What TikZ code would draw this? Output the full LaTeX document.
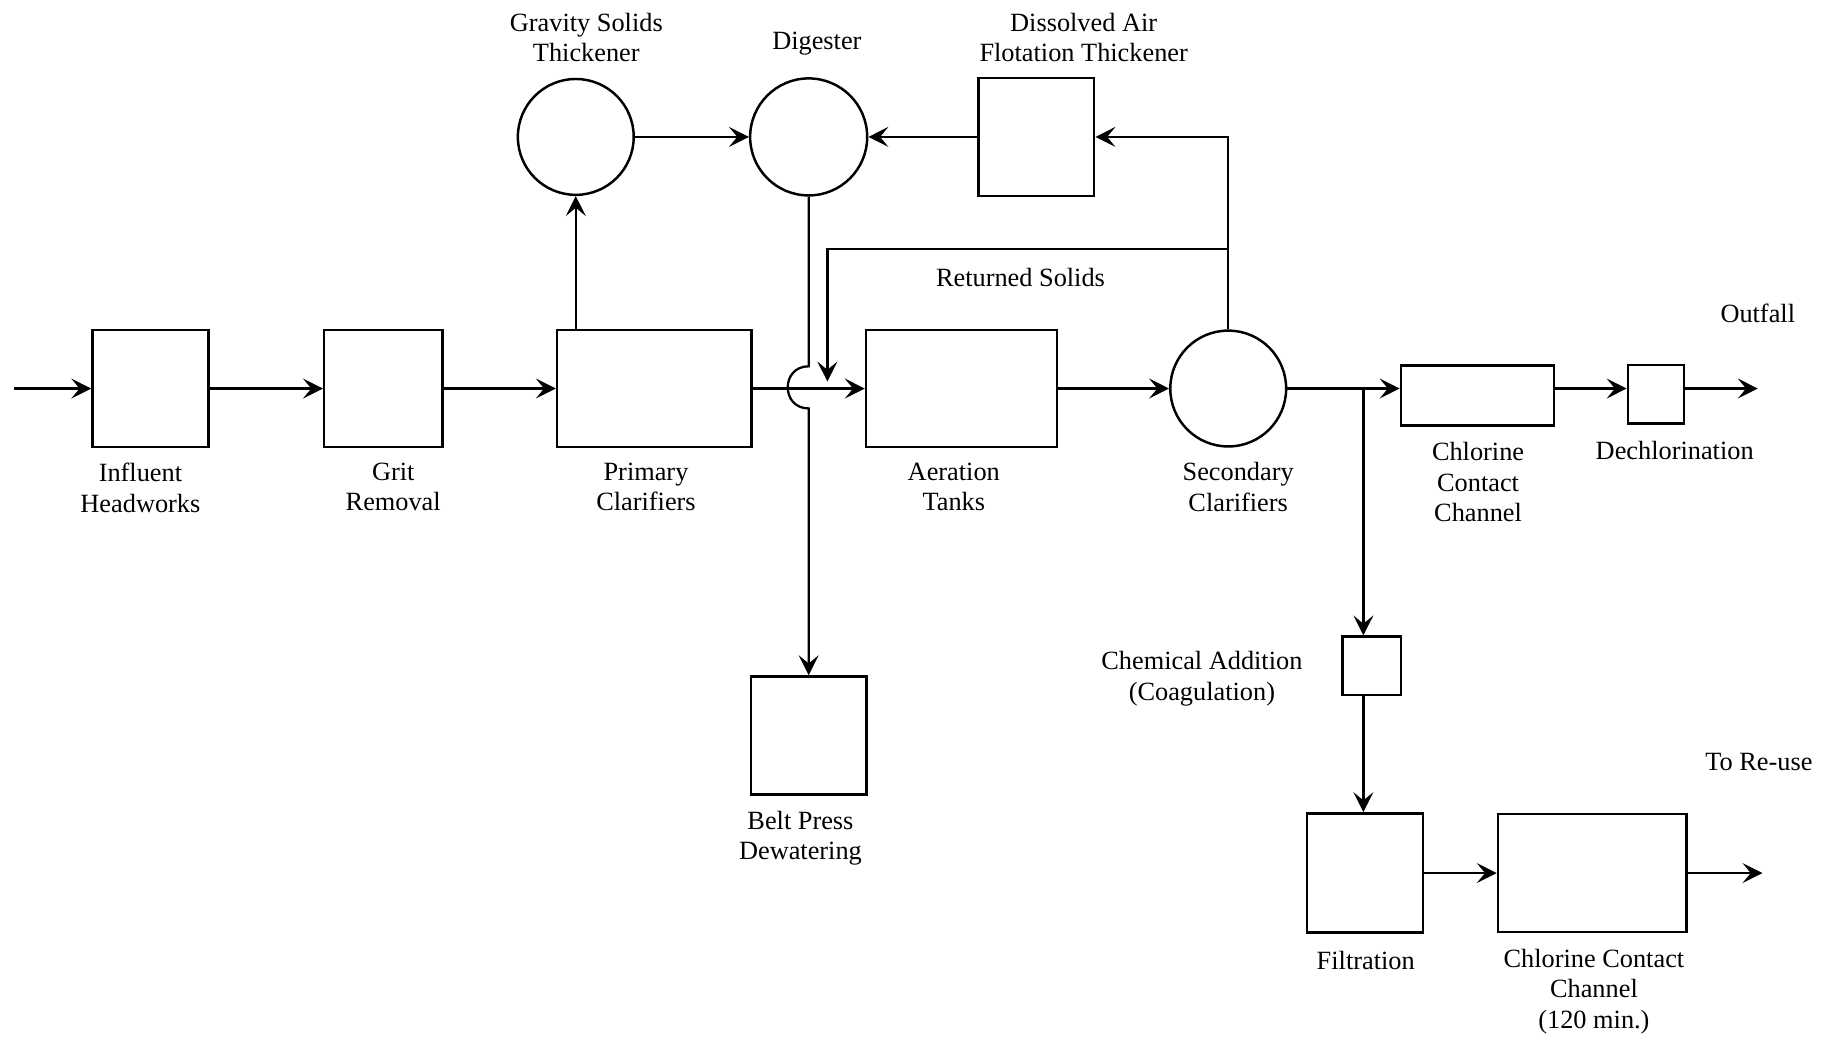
\documentclass[tikz,border=0pt]{standalone}
\usepackage{fontspec}
\setmainfont{Liberation Serif}
\usepackage{tikz}
\usetikzlibrary{arrows.meta,calc,positioning}
\tikzset{
  unit/.style={draw,line width=1.2pt,inner sep=0pt},
  tank/.style={draw,circle,line width=1.2pt,inner sep=0pt,minimum size=19.8mm},
  flow/.style={-{Stealth[length=3.4mm,width=3.4mm,inset=1.4mm]},line width=1.1pt},
  lbl/.style={align=center,font=\fontsize{12.8}{14.8}\selectfont}
}
\begin{document}
\begin{tikzpicture}[x=0.2mm,y=0.2mm]
\useasboundingbox (0,0) rectangle (1568,888);
% linea principal
\coordinate (in) at (12,556);
\node[unit,minimum width=19.8mm,minimum height=20mm] (hw) at (128.5,556) {};
\node[unit,minimum width=20.2mm,minimum height=20mm] (grit) at (327.5,556) {};
\node[unit,minimum width=33.2mm,minimum height=20mm] (prim) at (559,556) {};
\node[unit,minimum width=32.6mm,minimum height=20mm] (aer) at (821.5,556) {};
\node[tank] (sec) at (1049.5,556) {};
\node[unit,minimum width=26.2mm,minimum height=10.2mm] (cl1) at (1262.5,550) {};
\node[unit,minimum width=9.6mm,minimum height=10mm] (dech) at (1415,551) {};
\coordinate (out) at (1502,556);
% lodos
\node[tank] (grav) at (492,771) {};
\node[tank,minimum size=20mm] (dig) at (691,771) {};
\node[unit,minimum width=19.8mm,minimum height=20.2mm] (daf) at (885.5,771) {};
\node[unit,minimum width=19.8mm,minimum height=20.2mm] (belt) at (691,259.5) {};
% reuso
\coordinate (tee) at (1165,556);
\node[unit,minimum size=10mm] (chem) at (1172,319) {};
\node[unit,minimum width=19.8mm,minimum height=20.4mm] (filt) at (1166.5,142) {};
\node[unit,minimum width=32.2mm,minimum height=20.2mm] (cl2) at (1360.5,142) {};
\coordinate (reuse) at (1506,142);
% conexiones
\draw[flow] (in) -- (hw);
\draw[flow] (hw) -- (grit);
\draw[flow] (grit) -- (prim);
\draw[flow] (prim) -- (aer);
\draw[flow] (aer) -- (sec);
\draw[flow] (sec.east) -- (sec.east -| cl1.west);
\draw[flow] (cl1.east |- sec.east) -- (dech.west |- sec.east);
\draw[flow] (dech.east |- out) -- (out);
\draw[flow] (tee) -- (tee |- chem.north);
\draw[flow] (chem.south -| tee) -- (tee |- filt.north);
\draw[flow] (filt) -- (cl2);
\draw[flow] (cl2) -- (reuse);
\draw[flow] (prim.north -| grav) -- (grav);
\draw[flow] (grav) -- (dig);
\draw[flow] (daf) -- (dig);
\draw[flow] (sec) |- (daf);
\coordinate (ret) at (1049.5,675);
\coordinate (rettip) at (707,562);
\draw[flow] (ret) -| (rettip);
\coordinate (hoptop) at (691,575);
\coordinate (hopbot) at (691,539);
\draw[flow] (dig) -- (hoptop) to[out=180,in=180,looseness=1.7] (hopbot) -- (belt);
% textos
\node[lbl] (hwl) at (120,471) {Influent\\Headworks};
\node[lbl] (gritl) at (336,472) {Grit\\Removal};
\node[lbl] (priml) at (552,472) {Primary\\Clarifiers};
\node[lbl] (aerl) at (815,472) {Aeration\\Tanks};
\node[lbl] (secl) at (1058,472) {Secondary\\Clarifiers};
\node[lbl] (cl1l) at (1263,476) {Chlorine\\Contact\\Channel};
\node[lbl] (dechl) at (1431,503) {Dechlorination};
\node[lbl] (outl) at (1502,620) {Outfall};
\node[lbl] (gravl) at (501,856) {Gravity Solids\\Thickener};
\node[lbl] (digl) at (698,851) {Digester};
\node[lbl] (dafl) at (926,856) {Dissolved Air\\Flotation Thickener};
\node[lbl] (retl) at (872,651) {Returned Solids};
\node[lbl] (cheml) at (1027,308) {Chemical Addition\\(Coagulation)};
\node[lbl] (filtl) at (1167,67) {Filtration};
\node[lbl] (cl2l) at (1362,41) {Chlorine Contact\\Channel\\(120 min.)};
\node[lbl] (reusel) at (1503,237) {To Re-use};
\node[lbl] (beltl) at (684,172) {Belt Press\\Dewatering};
\end{tikzpicture}
\end{document}
